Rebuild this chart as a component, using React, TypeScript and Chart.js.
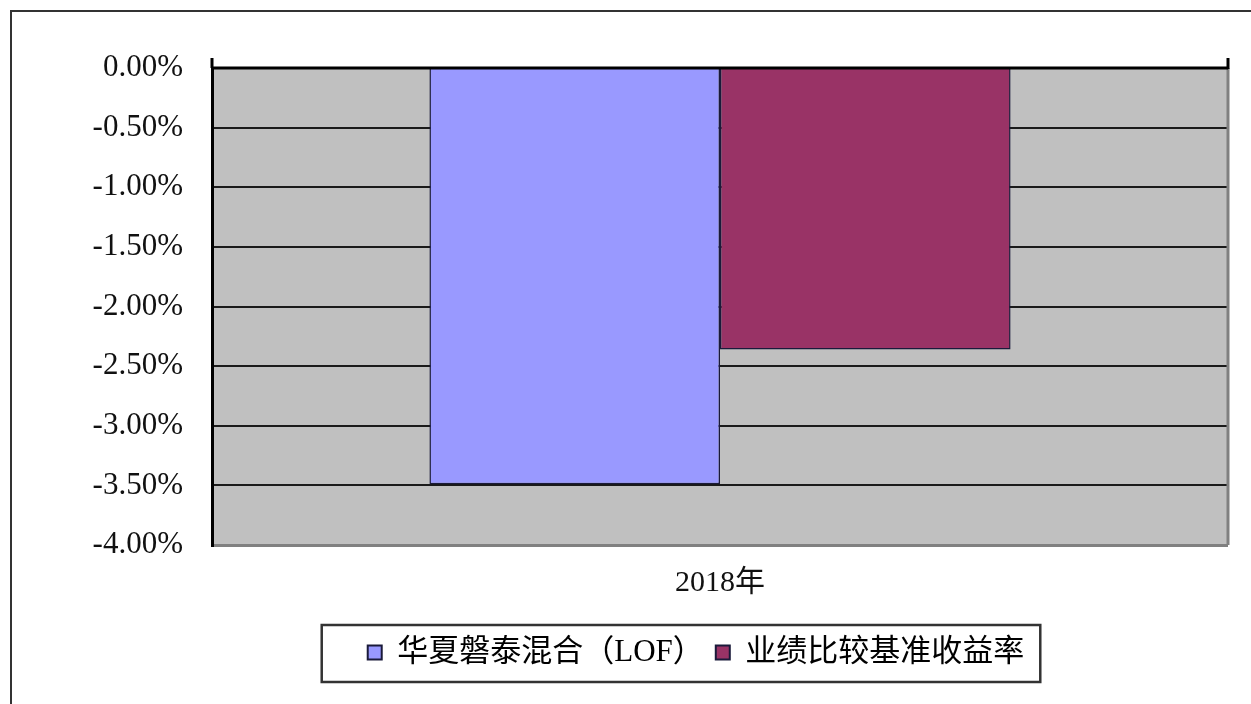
import React, { useEffect, useRef } from "react";
import { Chart, registerables } from "chart.js";

Chart.register(...registerables);

const categories = ["2018年"];
const seriesNames = ["华夏磐泰混合（LOF）", "业绩比较基准收益率"];
const fundReturns = [-3.49];
const benchmarkReturns = [-2.36];
const seriesColors = ["#9999FF", "#993366"];
const yMin = -4;
const yMax = 0;
const yStep = 0.5;

const SERIF = '"Liberation Serif", "Times New Roman", "Noto Sans CJK SC", serif';
const LEGEND_SHIFT = 82;

const framePlugin = {
  id: "frame",
  afterLayout(chart: any) {
    const lg = chart.legend;
    if (lg) {
      lg.left += LEGEND_SHIFT;
      lg.right += LEGEND_SHIFT;
    }
  },
  beforeDraw(chart: any) {
    const { ctx, chartArea } = chart;
    ctx.save();
    ctx.fillStyle = "#C0C0C0";
    ctx.fillRect(chartArea.left, chartArea.top, chartArea.right - chartArea.left, chartArea.bottom - chartArea.top);
    ctx.restore();
  },
  afterDraw(chart: any) {
    const { ctx, chartArea } = chart;
    ctx.save();
    ctx.strokeStyle = "#808080";
    ctx.lineWidth = 3;
    ctx.beginPath();
    ctx.moveTo(chartArea.right, chartArea.top);
    ctx.lineTo(chartArea.right, chartArea.bottom);
    ctx.stroke();
    ctx.strokeStyle = "#000";
    ctx.lineWidth = 3;
    ctx.beginPath();
    ctx.moveTo(chartArea.left, chartArea.top);
    ctx.lineTo(chartArea.right, chartArea.top);
    ctx.stroke();
    ctx.beginPath();
    ctx.moveTo(chartArea.left, chartArea.top - 10);
    ctx.lineTo(chartArea.left, chartArea.top);
    ctx.moveTo(chartArea.right, chartArea.top - 10);
    ctx.lineTo(chartArea.right, chartArea.top + 1);
    ctx.stroke();
    const lg = chart.legend;
    if (lg && lg.legendHitBoxes && lg.legendHitBoxes.length) {
      const boxes = lg.legendHitBoxes;
      let minX = Infinity, maxX = -Infinity, minY = Infinity, maxY = -Infinity;
      boxes.forEach((b: any) => {
        minX = Math.min(minX, b.left);
        maxX = Math.max(maxX, b.left + b.width);
        minY = Math.min(minY, b.top);
        maxY = Math.max(maxY, b.top + b.height);
      });
      ctx.strokeStyle = "#333";
      ctx.lineWidth = 2.5;
      ctx.strokeRect(minX - 46, minY - 12, maxX - minX + 46 + 16, maxY - minY + 26);
    }
    ctx.restore();
  },
};

export default function App() {
  const ref = useRef<HTMLCanvasElement>(null);
  useEffect(() => {
    if (!ref.current) return;
    const chart = new Chart(ref.current, {
      type: "bar",
      data: {
        labels: categories,
        datasets: [
          {
            label: seriesNames[0],
            data: fundReturns,
            backgroundColor: seriesColors[0],
            borderColor: "#1a1a3a",
            borderWidth: 1.5,
            categoryPercentage: 0.572,
            barPercentage: 1,
          },
          {
            label: seriesNames[1],
            data: benchmarkReturns,
            backgroundColor: seriesColors[1],
            borderColor: "#1a1a3a",
            borderWidth: 1.5,
            categoryPercentage: 0.572,
            barPercentage: 1,
          },
        ],
      },
      options: {
        responsive: false,
        animation: false,
        layout: { padding: { left: 0, right: 23, top: 68, bottom: 26 } },
        plugins: {
          tooltip: { enabled: false },
          legend: {
            position: "bottom",
            labels: {
              boxWidth: 14,
              boxHeight: 14,
              padding: 12,
              color: "#111",
              font: { family: SERIF, size: 31 },
              generateLabels: (chart: any) =>
                chart.data.datasets.map((ds: any, i: number) => ({
                  text: ds.label,
                  fillStyle: ds.backgroundColor,
                  strokeStyle: "#1a1a3a",
                  lineWidth: 2,
                  datasetIndex: i,
                  hidden: false,
                })),
            },
          },
        },
        scales: {
          x: {
            grid: { display: false },
            border: { display: false },
            ticks: { color: "#111", font: { family: SERIF, size: 30 }, padding: 12 },
            afterFit: (s: any) => {
              s.height = 80;
            },
          },
          y: {
            min: yMin,
            max: yMax,
            afterFit: (s: any) => {
              s.width = 212;
            },
            border: { display: true, color: "#000", width: 3 },
            grid: {
              drawTicks: false,
              color: (c: any) => (c.tick && c.tick.value === yMin ? "#808080" : "#1a1a1a"),
              lineWidth: (c: any) => (c.tick && c.tick.value === yMin ? 3 : 2),
            },
            ticks: {
              stepSize: yStep,
              padding: 29,
              color: "#111",
              font: { family: SERIF, size: 31 },
              callback: (v: any) => Number(v).toFixed(2) + "%",
            },
          },
        },
      },
      plugins: [framePlugin],
    });
    return () => chart.destroy();
  }, []);
  return (
    <div style={{ position: "fixed", left: 0, top: 0, width: 1251, height: 704, overflow: "hidden", background: "#fff" }}>
      <div
        style={{
          position: "absolute",
          left: 10,
          top: 10,
          width: 1300,
          height: 800,
          borderLeft: "2px solid #333",
          borderTop: "2px solid #333",
        }}
      />
      <canvas ref={ref} width={1251} height={704} style={{ position: "absolute", left: 0, top: 0 }} />
    </div>
  );
}
